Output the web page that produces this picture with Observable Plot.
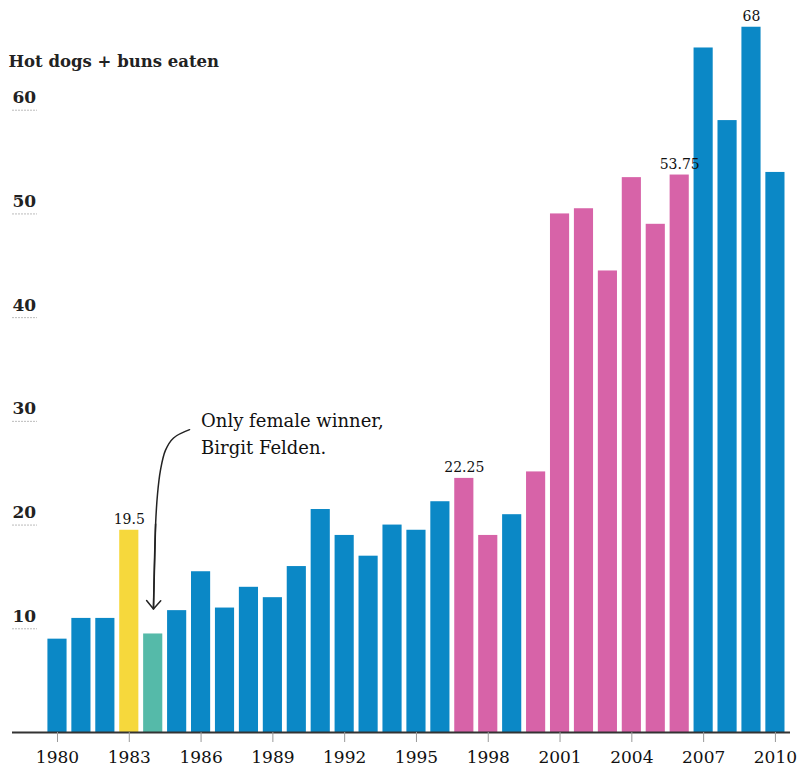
<!DOCTYPE html>
<html><head><meta charset="utf-8">
<script src="https://cdn.jsdelivr.net/npm/d3@7"></script>
<script src="https://cdn.jsdelivr.net/npm/@observablehq/plot@0.6"></script>
<style>body{margin:0;background:#fff} svg{display:block}</style>
</head><body><div id="chart"></div>
<script>
// ---- data ----
const title = "Hot dogs + buns eaten";
const years = [1980,1981,1982,1983,1984,1985,1986,1987,1988,1989,1990,1991,1992,1993,1994,1995,1996,1997,1998,1999,2000,2001,2002,2003,2004,2005,2006,2007,2008,2009,2010];
const hotDogs = [9,11,11,19.5,9.5,11.75,15.5,12,14,13,16,21.5,19,17,20,19.5,22.25,24.5,19,21,25.125,50,50.5,44.5,53.5,49,53.75,66,59,68,54];
const countries = ["USA","USA","USA","Mexico","West Germany","USA","USA","USA","USA","USA","USA","USA","USA","USA","USA","USA","USA","Japan","Japan","USA","Japan","Japan","Japan","Japan","Japan","Japan","Japan","USA","USA","USA","USA"];
const countryNames = ["USA","Mexico","West Germany","Japan"];
const countryColors = ["#0b88c6","#f6d83c","#55baa9","#d763a8"];
const yTicks = [10,20,30,40,50,60];
const xTicks = [1980,1983,1986,1989,1992,1995,1998,2001,2004,2007,2010];
const labelYears = [1983,1997,2006,2009];
const labelTexts = ["19.5","22.25","53.75","68"];
const annotationLines = ["Only female winner,","Birgit Felden."];
const annotationYear = 1986;
const annotationValue = 31.3;
const arrowYears = [1985.52,1984.85,1984.51,1984.30,1984.18,1984.10,1984.01];
const arrowValues = [29.2,28.4,27.2,25.25,23.0,20.1,11.9];

// ---- build ----
const data = years.map((year, i) => ({year, value: hotDogs[i], country: countries[i]}));
const labelData = labelYears.map((year, i) => ({year, text: labelTexts[i], value: hotDogs[years.indexOf(year)]}));
const arrowPts = arrowYears.map((year, i) => ({year, value: arrowValues[i]}));
const n = arrowPts.length;
const arrowSeg = [{x1: arrowPts[n-2].year, y1: arrowPts[n-2].value, x2: arrowPts[n-1].year, y2: arrowPts[n-1].value}];

const serif = "DejaVu Serif";
const ink = "#222";
const chart = Plot.plot({
  width: 798, height: 769,
  marginLeft: 12, marginRight: 8, marginTop: 6, marginBottom: 37,
  style: {fontFamily: serif, background: "#fff", color: ink},
  x: {domain: [1978.12, 2010.63], axis: null},
  y: {domain: [0, 70], axis: null},
  color: {domain: countryNames, range: countryColors},
  marks: [
    Plot.rectY(data, {x1: d => d.year - 0.4, x2: d => d.year + 0.4, y: "value", fill: "country"}),
    Plot.tickY(yTicks, {y: d => d, insetRight: 753, stroke: "#bbb", strokeDasharray: "2,1"}),
    Plot.text(yTicks, {y: d => d, text: d => String(d), frameAnchor: "left", textAnchor: "start", lineAnchor: "bottom", dy: -7, fontSize: 17, fontWeight: "bold", fill: ink}),
    Plot.ruleY([0], {stroke: "#333", strokeWidth: 2}),
    Plot.axisX({ticks: xTicks, tickSize: 10, tickPadding: 8, tickFormat: d => String(d), fontSize: 17, stroke: "#999", fill: "#111"}),
    Plot.text(labelData, {x: "year", y: "value", text: "text", lineAnchor: "bottom", dy: -6, fontSize: 14, fill: "#111"}),
    Plot.text([annotationLines.join("\n")], {x: annotationYear, y: annotationValue, text: d => d, textAnchor: "start", lineAnchor: "top", lineHeight: 1.5, fontSize: 18, fill: "#111"}),
    Plot.line(arrowPts, {x: "year", y: "value", curve: "catmull-rom", stroke: ink, strokeWidth: 1.5}),
    Plot.arrow(arrowSeg, {x1: "x1", y1: "y1", x2: "x2", y2: "y2", stroke: ink, strokeWidth: 1.5, headLength: 11, headAngle: 80}),
    Plot.text([title], {frameAnchor: "top-left", textAnchor: "start", lineAnchor: "top", dx: -4, dy: 49, fontSize: 16.5, fontWeight: "bold", fill: ink})
  ]
});
document.getElementById("chart").appendChild(chart);
</script>
</body></html>
